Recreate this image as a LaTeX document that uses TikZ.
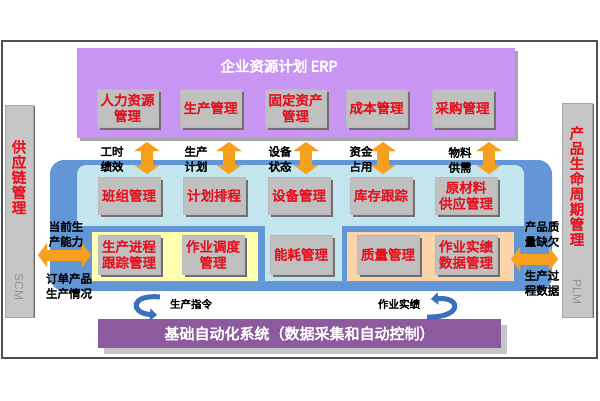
\documentclass[tikz,border=0pt]{standalone}
\usepackage{fontspec}
\setmainfont{Noto Sans CJK SC}
\newfontfamily\cjkb{Noto Sans CJK SC}[FakeBold=3.5]
\newfontfamily\latinsans{Liberation Sans}
\usetikzlibrary{arrows.meta,shadows}
\definecolor{erpviolet}{RGB}{200,150,242}
\definecolor{boxgray}{RGB}{192,192,192}
\definecolor{shadowgray}{RGB}{112,112,112}
\definecolor{redtxt}{RGB}{228,18,30}
\definecolor{mesblue}{RGB}{98,150,212}
\definecolor{mescyan}{RGB}{194,229,238}
\definecolor{mesyellow}{RGB}{255,255,178}
\definecolor{mespeach}{RGB}{252,212,170}
\definecolor{arroworange}{RGB}{247,160,30}
\definecolor{basepurple}{RGB}{142,90,158}
\definecolor{curveblue}{RGB}{60,110,190}
\definecolor{framegray}{RGB}{80,80,80}
\definecolor{sidegray}{RGB}{198,198,198}
\begin{document}
\begin{tikzpicture}[x=1pt,y=-1pt,
  modbox/.style={draw=gray!55, line width=0.6pt, fill=boxgray, minimum width=61pt,
    minimum height=38pt, inner sep=1pt, align=center, text=redtxt,
    font=\cjkb\fontsize{13.5}{16}\selectfont,
    general shadow={fill=shadowgray, shadow xshift=3pt, shadow yshift=-3pt}},
  sidebox/.style={fill=sidegray, draw=gray!70, line width=0.5pt,
    general shadow={fill=gray!80!black, shadow xshift=2pt, shadow yshift=-1pt}},
  sidetext/.style={text=redtxt, align=center, font=\cjkb\fontsize{14.5}{15.2}\selectfont, inner sep=0pt},
  sideabbr/.style={text=gray!85, rotate=-90, font=\latinsans\fontsize{12}{12}\selectfont, inner sep=0pt},
  lbl/.style={text=black, align=center, font=\cjkb\fontsize{11.5}{15}\selectfont, inner sep=0pt},
  vdbl/.style={draw=arroworange, line width=12pt,
    {Triangle[width=25pt,length=9pt,line width=0.01pt]}-{Triangle[width=25pt,length=9pt,line width=0.01pt]}},
  hdbl/.style={draw=arroworange, line width=11pt,
    {Triangle[width=24pt,length=9pt,line width=0.01pt]}-{Triangle[width=24pt,length=9pt,line width=0.01pt]}},
  curvearrow/.style={draw=curveblue, line width=5pt,
    -{Triangle[width=12pt,length=7pt,line width=0.01pt]}},
]
\useasboundingbox (0,0) rectangle (600,400);
\fill[white] (0,0) rectangle (600,400);
% outer frame
\draw[framegray, line width=1.2pt] (2,41) rectangle (597,358);

% side boxes
\node[sidebox, minimum width=28pt, minimum height=212pt] (scm) at (19,211) {};
\node[sidetext] (scmt) at (19,177) {供\\应\\链\\管\\理};
\node[sideabbr] (scma) at (19,287) {SCM};
\node[sidebox, minimum width=30pt, minimum height=214pt] (plm) at (577,210) {};
\node[sidetext] (plmt) at (577,186) {产\\品\\生\\命\\周\\期\\管\\理};
\node[sideabbr] (plma) at (577,292) {PLM};

% ERP layer
\node[fill=erpviolet, minimum width=438pt, minimum height=90pt, inner sep=0pt,
  general shadow={fill=gray!70, shadow xshift=3pt, shadow yshift=-3pt}] (erp) at (296,93) {};
\node[text=white, font=\cjkb\fontsize{14.5}{16}\selectfont] (erpt) at (279,66) {企业资源计划 ERP};
\node[modbox] (hr)  at (127.5,108) {人力资源\\管理};
\node[modbox] (pm)  at (210.5,108) {生产管理};
\node[modbox] (fa)  at (295.5,108) {固定资产\\管理};
\node[modbox] (cm)  at (376.5,108) {成本管理};
\node[modbox] (pu)  at (462.5,108) {采购管理};

% MES layer
\fill[mesblue, rounded corners=14pt] (50,160) rectangle (552,291);
\fill[mescyan, rounded corners=9pt] (77,165) rectangle (524,281);
\fill[mesblue] (77,226) rectangle (265,281);
\fill[mesblue] (342,226) rectangle (524,281);
\fill[mesyellow] (92,232) rectangle (258,281);
\fill[mespeach] (347,232) rectangle (514,281);

\node[modbox, minimum width=62pt, minimum height=37pt] (bz) at (129,195.5) {班组管理};
\node[modbox, minimum width=62pt, minimum height=37pt] (jh) at (214,195.5) {计划排程};
\node[modbox, minimum width=62pt, minimum height=37pt] (sb) at (299,195.5) {设备管理};
\node[modbox, minimum width=62pt, minimum height=37pt] (kc) at (381,195.5) {库存跟踪};
\node[modbox, minimum width=62pt, minimum height=37pt] (yc) at (466,195.5) {原材料\\供应管理};
\node[modbox, minimum width=62pt, minimum height=39pt] (jc) at (129,254.5) {生产进程\\跟踪管理};
\node[modbox, minimum width=62pt, minimum height=39pt] (dd) at (213,254.5) {作业调度\\管理};
\node[modbox, minimum width=62pt, minimum height=39pt] (nh) at (301,254.5) {能耗管理};
\node[modbox, minimum width=62pt, minimum height=39pt] (zl) at (388,254.5) {质量管理};
\node[modbox, minimum width=62pt, minimum height=39pt] (sj) at (466,254.5) {作业实绩\\数据管理};

% ERP <-> MES arrows
\foreach \i/\x in {1/147,2/229,3/306,4/383,5/489}{
  \coordinate (et\i) at (\x,142);
  \coordinate (mb\i) at (\x,174);
  \draw[vdbl] (et\i) -- (mb\i);
}
\node[lbl] (l1) at (112,159) {工时\\绩效};
\node[lbl] (l2) at (196,159) {生产\\计划};
\node[lbl] (l3) at (280,159) {设备\\状态};
\node[lbl] (l4) at (361,159) {资金\\占用};
\node[lbl] (l5) at (460,160) {物料\\供需};

% side arrows
\coordinate (sl) at (38,255);
\coordinate (sr) at (91,255);
\draw[hdbl] (sl) -- (sr);
\coordinate (pl) at (511,259);
\coordinate (pr) at (558,259);
\draw[hdbl] (pl) -- (pr);
\node[lbl] (l6) at (66,234) {当前生\\产能力};
\node[lbl] (l7) at (69,286) {订单产品\\生产情况};
\node[lbl] (l8) at (542,234) {产品质\\量缺欠};
\node[lbl] (l9) at (542,283) {生产过\\程数据};

% base automation
\node[fill=basepurple, minimum width=403pt, minimum height=29pt, inner sep=0pt,
  text=white, font=\cjkb\fontsize{15}{16}\selectfont,
  general shadow={fill=gray!45, shadow xshift=6pt, shadow yshift=-6pt}] (base) at (299.5,333.5)
  {基础自动化系统（数据采集和自动控制）};

% curved arrows
\coordinate (c1s) at (160,297);
\coordinate (c1e) at (157,315);
\draw[curvearrow] (c1s) .. controls (130,294) and (130,313) .. (c1e);
\node[lbl, font=\cjkb\fontsize{10.5}{12}\selectfont] (l10) at (191,304) {生产指令};
\coordinate (c2s) at (427,317);
\coordinate (c2e) at (431,299);
\draw[curvearrow] (c2s) .. controls (462,318) and (462,297) .. (c2e);
\node[lbl, font=\cjkb\fontsize{10.5}{12}\selectfont] (l11) at (399,304) {作业实绩};
\end{tikzpicture}
\end{document}
